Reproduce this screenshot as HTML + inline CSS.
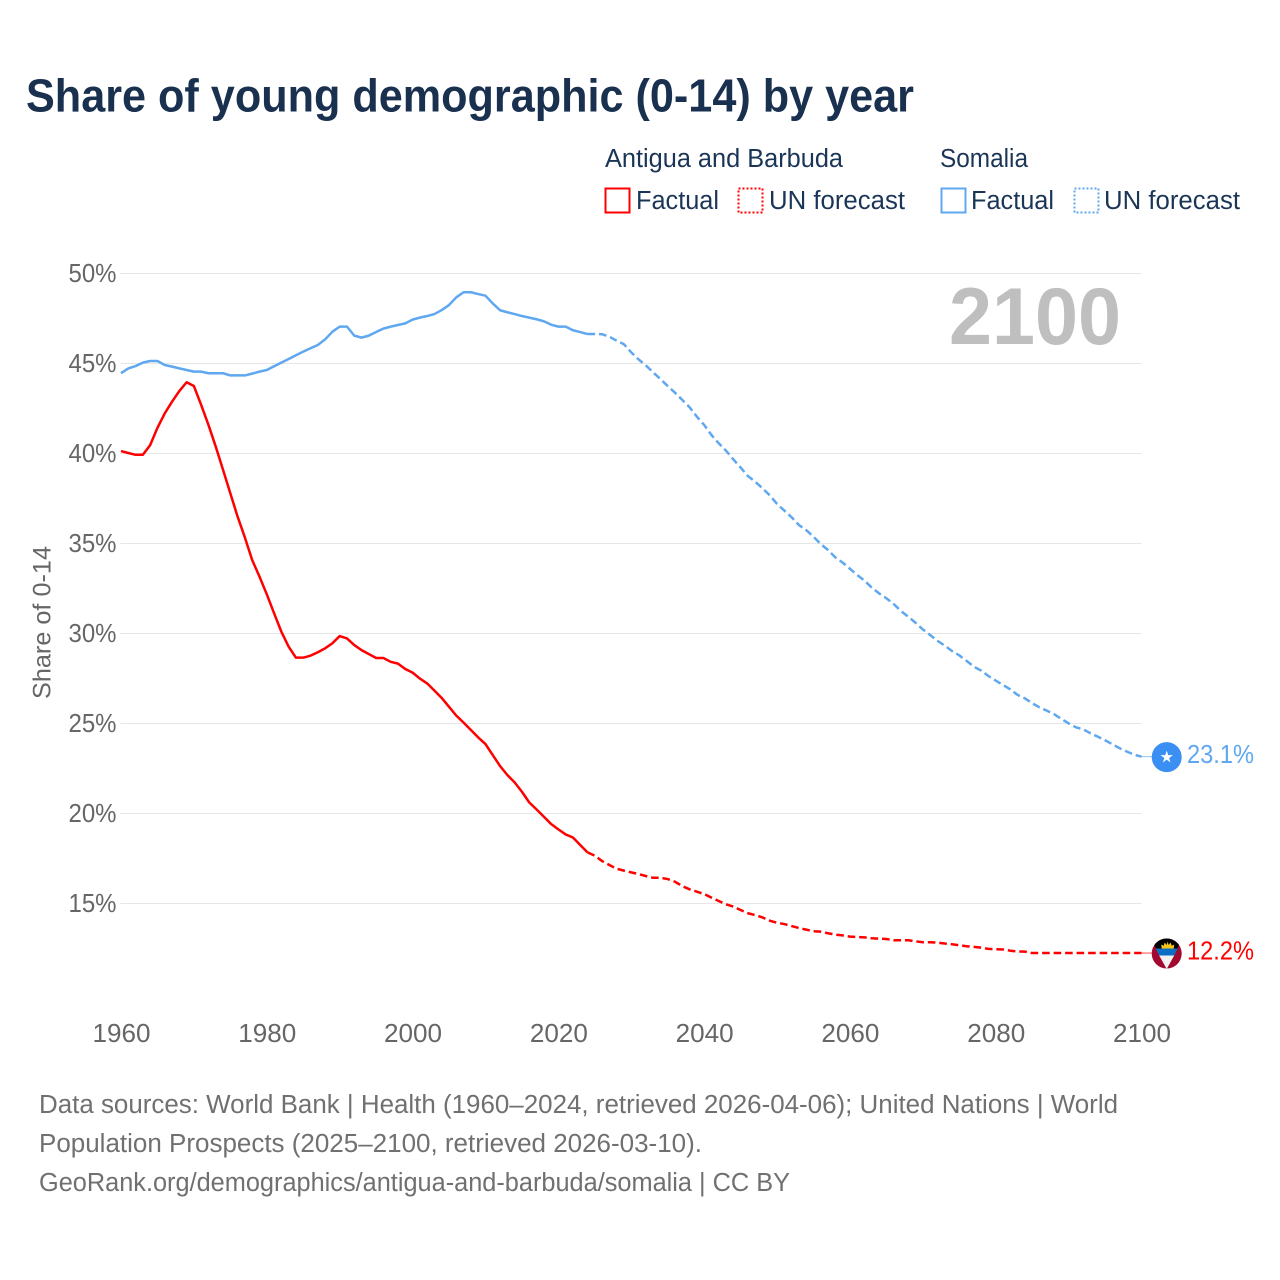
<!DOCTYPE html>
<html lang="en">
<head>
<meta charset="utf-8">
<title>Share of young demographic (0-14) by year</title>
<style>
html,body{margin:0;padding:0;background:#fff;}
svg{display:block;}
text{font-family:"Liberation Sans",sans-serif;}
</style>
</head>
<body>
<svg id="chart" width="1280" height="1280" viewBox="0 0 1280 1280" xmlns="http://www.w3.org/2000/svg">
  <rect width="1280" height="1280" fill="#ffffff"/>
  <text x="26" y="111.5" font-size="46" font-weight="700" fill="#19304f" textLength="888" lengthAdjust="spacingAndGlyphs">Share of young demographic (0-14) by year</text>

  <g font-size="25.5" fill="#1b3557">
    <text x="605" y="167" textLength="238" lengthAdjust="spacingAndGlyphs">Antigua and Barbuda</text>
    <text x="940" y="167" textLength="88" lengthAdjust="spacingAndGlyphs">Somalia</text>
    <g>
      <rect x="605.5" y="188.5" width="24" height="24" fill="none" stroke="#ff0000" stroke-width="2"/>
      <text x="636" y="209" textLength="83" lengthAdjust="spacingAndGlyphs">Factual</text>
    </g>
    <g>
      <rect x="738.5" y="188.5" width="24" height="24" fill="none" stroke="#ff0000" stroke-width="2" stroke-dasharray="2 2"/>
      <text x="769" y="209" textLength="136" lengthAdjust="spacingAndGlyphs">UN forecast</text>
    </g>
    <g>
      <rect x="941.5" y="188.5" width="24" height="24" fill="none" stroke="#5fa8f0" stroke-width="2"/>
      <text x="971" y="209" textLength="83" lengthAdjust="spacingAndGlyphs">Factual</text>
    </g>
    <g>
      <rect x="1074.5" y="188.5" width="24" height="24" fill="none" stroke="#5fa8f0" stroke-width="2" stroke-dasharray="2 2"/>
      <text x="1104" y="209" textLength="136" lengthAdjust="spacingAndGlyphs">UN forecast</text>
    </g>
  </g>

  <g id="grid"></g>
  <g id="yTicks"></g>
  <g id="xTicks"></g>

  <text transform="translate(50.5,699) rotate(-90)" font-size="25" fill="#666666" textLength="153" lengthAdjust="spacingAndGlyphs">Share of 0-14</text>
  <text x="949" y="344" font-size="81" font-weight="700" fill="#bfbfbf" textLength="172" lengthAdjust="spacingAndGlyphs">2100</text>

  <g id="series"></g>

  <g id="flagSomalia">
    <circle r="15" fill="#3a8ff2"/>
    <polygon fill="#ffffff" points="0,-6.5 1.5,-2 6.2,-2 2.4,0.8 3.8,5.3 0,2.5 -3.8,5.3 -2.4,0.8 -6.2,-2 -1.5,-2"/>
  </g>
  <g id="flagAntigua">
    <defs><clipPath id="antiguaClip"><circle r="15"/></clipPath></defs>
    <g clip-path="url(#antiguaClip)">
      <rect x="-16" y="-16" width="32" height="32" fill="#a3082f"/>
      <polygon points="-16,-15.5 16,-15.5 0,15.5" fill="#000000"/>
      <polygon points="-11,-5 11,-5 7.5,2 -7.5,2" fill="#0a6fc4"/>
      <polygon points="-7.5,2 7.5,2 0,15.5" fill="#f2f2f2"/>
      <path d="M-5,-5 L-5.5,-9 L-3,-7.8 L-2,-11 L0,-8.6 L1,-12 L2,-8.6 L4,-11 L5,-7.8 L7.5,-9 L7,-5 Z" fill="#f6c51c"/>
    </g>
  </g>

  <text id="labelSomalia" x="1187" font-size="25.5" fill="#5fa8f0" textLength="67" lengthAdjust="spacingAndGlyphs"></text>
  <text id="labelAntigua" x="1187" font-size="25.5" fill="#ff0000" textLength="67" lengthAdjust="spacingAndGlyphs"></text>

  <g font-size="25.5" fill="#707070">
    <text x="39" y="1113" textLength="1079" lengthAdjust="spacingAndGlyphs">Data sources: World Bank | Health (1960–2024, retrieved 2026-04-06); United Nations | World</text>
    <text x="39" y="1152" textLength="663" lengthAdjust="spacingAndGlyphs">Population Prospects (2025–2100, retrieved 2026-03-10).</text>
    <text x="39" y="1191" textLength="751" lengthAdjust="spacingAndGlyphs">GeoRank.org/demographics/antigua-and-barbuda/somalia | CC BY</text>
  </g>
</svg>

<script>
const firstYear = 1960;
const lastFactualYear = 2024;
const yTickValues = [15, 20, 25, 30, 35, 40, 45, 50];
const xTickValues = [1960, 1980, 2000, 2020, 2040, 2060, 2080, 2100];

const antiguaFactual = [
  40.11, 40.0, 39.9, 39.9, 40.44, 41.4, 42.2, 42.85, 43.44, 43.93,
  43.72, 42.67, 41.56, 40.35, 39.06, 37.76, 36.46, 35.3, 34.05, 33.13,
  32.15, 31.1, 30.07, 29.24, 28.63, 28.63, 28.74, 28.93, 29.15, 29.43,
  29.83, 29.7, 29.33, 29.05, 28.83, 28.61, 28.61, 28.4, 28.3, 28.0,
  27.8, 27.47, 27.2, 26.8, 26.39, 25.9, 25.41, 25.02, 24.61, 24.2,
  23.83, 23.22, 22.61, 22.11, 21.7, 21.18, 20.59, 20.2, 19.8, 19.39,
  19.09, 18.81, 18.64, 18.22, 17.81
];
const antiguaForecast = [
  17.63, 17.33, 17.11, 16.9, 16.8,
  16.7, 16.61, 16.5, 16.4, 16.4, 16.33, 16.18, 15.94, 15.76, 15.63,
  15.5, 15.3, 15.11, 14.93, 14.8, 14.61, 14.43, 14.33, 14.2, 14.02,
  13.9, 13.83, 13.72, 13.61, 13.52, 13.43, 13.41, 13.32, 13.24, 13.2,
  13.13, 13.11, 13.09, 13.04, 13.02, 13.0, 12.93, 12.93, 12.93, 12.87,
  12.82, 12.82, 12.8, 12.75, 12.71, 12.65, 12.6, 12.56, 12.52, 12.45,
  12.43, 12.42, 12.35, 12.31, 12.3, 12.22, 12.22, 12.22, 12.22, 12.22,
  12.22, 12.22, 12.22, 12.22, 12.22, 12.22, 12.22, 12.22, 12.22, 12.22,
  12.22
];
const somaliaFactual = [
  44.43, 44.7, 44.83, 45.02, 45.11, 45.11, 44.89, 44.8, 44.7, 44.61,
  44.52, 44.52, 44.43, 44.43, 44.43, 44.31, 44.31, 44.31, 44.41, 44.52,
  44.61, 44.82, 45.02, 45.22, 45.43, 45.63, 45.82, 46.0, 46.31, 46.74,
  47.02, 47.02, 46.52, 46.41, 46.52, 46.72, 46.91, 47.02, 47.11, 47.2,
  47.41, 47.52, 47.61, 47.72, 47.94, 48.22, 48.65, 48.93, 48.93, 48.83,
  48.74, 48.31, 47.93, 47.82, 47.72, 47.61, 47.52, 47.43, 47.32, 47.13,
  47.02, 47.02, 46.82, 46.72, 46.61
];
const somaliaForecast = [
  46.61, 46.6, 46.46, 46.24, 46.04,
  45.59, 45.2, 44.87, 44.48, 44.11, 43.72, 43.35, 42.95, 42.54, 42.02,
  41.56, 41.0, 40.54, 40.13, 39.65, 39.19, 38.72, 38.41, 38.04, 37.65,
  37.17, 36.8, 36.43, 36.0, 35.72, 35.35, 34.94, 34.61, 34.2, 33.91,
  33.57, 33.22, 32.91, 32.52, 32.2, 31.93, 31.61, 31.22, 30.91, 30.57,
  30.2, 29.89, 29.57, 29.3, 29.0, 28.76, 28.45, 28.13, 27.91, 27.61,
  27.36, 27.11, 26.87, 26.56, 26.37, 26.1, 25.87, 25.69, 25.49, 25.23,
  24.98, 24.76, 24.65, 24.43, 24.24, 24.04, 23.82, 23.6, 23.41, 23.24,
  23.13
];

const SVG_NS = 'http://www.w3.org/2000/svg';
const plot = { left: 121, right: 1141.5, y50: 273, pxPerPct: 18, yearSpan: 140 };
function xScale(year) {
  return plot.left + (year - firstYear) * (plot.right - plot.left) / plot.yearSpan;
}
function yScale(value) {
  return plot.y50 + (50 - value) * plot.pxPerPct;
}
function linePath(startYear, values) {
  return values.map(function (v, i) {
    return (i ? 'L' : 'M') + xScale(startYear + i).toFixed(2) + ',' + yScale(v).toFixed(2);
  }).join(' ');
}

const gridGroup = document.getElementById('grid');
const yTickGroup = document.getElementById('yTicks');
const xTickGroup = document.getElementById('xTicks');
const seriesGroup = document.getElementById('series');

yTickValues.forEach(function (v) {
  const gridline = document.createElementNS(SVG_NS, 'line');
  
  
  gridline.setAttribute('x1', plot.left - 0.5);
  gridline.setAttribute('x2', plot.right);
  gridline.setAttribute('y1', yScale(v) + 0.5);
  gridline.setAttribute('y2', yScale(v) + 0.5);
  gridline.setAttribute('stroke', '#e6e6e6');
  gridline.setAttribute('stroke-width', '1');
  gridGroup.appendChild(gridline);

  const label = document.createElementNS(SVG_NS, 'text');
  
  
  label.setAttribute('x', 68.5);
  label.setAttribute('y', yScale(v) + 9);
  label.setAttribute('font-size', '25.5');
  label.setAttribute('fill', '#666666');
  label.setAttribute('textLength', '48');
  label.setAttribute('lengthAdjust', 'spacingAndGlyphs');
  label.textContent = v + '%';
  yTickGroup.appendChild(label);
});

xTickValues.forEach(function (year) {
  const label = document.createElementNS(SVG_NS, 'text');
  
  
  label.setAttribute('x', xScale(year) - 28.5);
  label.setAttribute('y', 1042);
  label.setAttribute('font-size', '25.5');
  label.setAttribute('fill', '#666666');
  label.setAttribute('textLength', '58');
  label.setAttribute('lengthAdjust', 'spacingAndGlyphs');
  label.textContent = year;
  xTickGroup.appendChild(label);
});

function addLine(name, d, color, dashed) {
  const path = document.createElementNS(SVG_NS, 'path');
  
  
  path.setAttribute('d', d);
  path.setAttribute('fill', 'none');
  path.setAttribute('stroke', color);
  path.setAttribute('stroke-width', '2.5');
  path.setAttribute('stroke-linejoin', 'round');
  if (dashed) {
    path.setAttribute('stroke-dasharray', '7.6 3.9');
  }
  seriesGroup.appendChild(path);
}

const RED = '#ff0000';
const BLUE = '#5fa8f0';
const forecastStart = lastFactualYear;
addLine('somalia-factual-line', linePath(firstYear, somaliaFactual), BLUE, false);
addLine('somalia-forecast-line', linePath(forecastStart, [somaliaFactual[somaliaFactual.length - 1]].concat(somaliaForecast)), BLUE, true);
addLine('antigua-factual-line', linePath(firstYear, antiguaFactual), RED, false);
addLine('antigua-forecast-line', linePath(forecastStart, [antiguaFactual[antiguaFactual.length - 1]].concat(antiguaForecast)), RED, true);

function placeEnd(flagId, labelId, connectorName, color, lastValue) {
  const y = yScale(lastValue);
  const connector = document.createElementNS(SVG_NS, 'line');
  
  
  connector.setAttribute('x1', plot.right);
  connector.setAttribute('x2', 1153);
  connector.setAttribute('y1', y);
  connector.setAttribute('y2', y);
  connector.setAttribute('stroke', color);
  connector.setAttribute('stroke-width', '1');
  connector.setAttribute('opacity', '0.7');
  seriesGroup.appendChild(connector);
  document.getElementById(flagId).setAttribute('transform', 'translate(1166.7,' + (y + 0.5).toFixed(2) + ')');
  const label = document.getElementById(labelId);
  label.setAttribute('y', (y + 6.5).toFixed(2));
  label.textContent = lastValue.toFixed(1) + '%';
}
placeEnd('flagSomalia', 'labelSomalia', 'somalia-end-connector', BLUE, somaliaForecast[somaliaForecast.length - 1]);
placeEnd('flagAntigua', 'labelAntigua', 'antigua-end-connector', RED, antiguaForecast[antiguaForecast.length - 1]);
</script>
</body>
</html>
